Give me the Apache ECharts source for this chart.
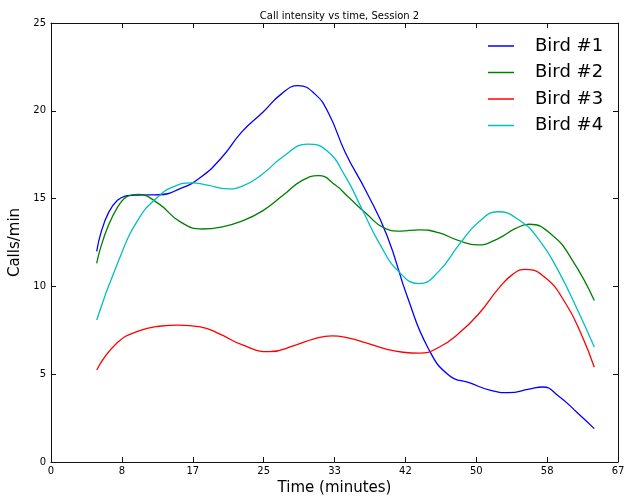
<!DOCTYPE html>
<html>
<head>
<meta charset="utf-8">
<script src="https://cdn.jsdelivr.net/npm/echarts@6/dist/echarts.min.js"></script>
<style>
html,body{margin:0;padding:0;background:#fff;}
#chart{width:626px;height:504px;}
</style>
</head>
<body>
<div id="chart"></div>
<script>
var titleText = 'Call intensity vs time, Session 2';
var seriesNames = ['Bird #1', 'Bird #2', 'Bird #3', 'Bird #4'];
var seriesColors = ['#0000ff', '#008000', '#ff0000', '#00bfbf'];
var xTickLabels = ['0', '8', '17', '25', '33', '42', '50', '58', '67'];
var yTickValues = [0, 5, 10, 15, 20, 25];

// [minutes, calls/min]
var bird1 = [[5.4,12.0],[7.85,14.9],[10.3,15.2],[12.75,15.22],[15.2,15.55],[17.65,16.2],[20.1,17.3],[22.55,18.8],[25.0,19.9],[27.2,20.95],[29.2,21.43],[31.2,20.95],[32.8,19.86],[34.8,17.6],[37.25,15.4],[39.7,12.9],[42.15,9.35],[44.6,6.45],[47.05,4.93],[49.5,4.5],[51.95,4.08],[54.1,3.95],[56.5,4.15],[58.1,4.27],[60.0,3.75],[62.1,2.85],[64.2,1.9]];
var bird2 = [[5.4,11.31],[7.85,14.5],[10.3,15.24],[12.75,14.7],[15.2,13.7],[17.9,13.27],[20.1,13.38],[22.55,13.72],[25.0,14.3],[27.45,15.2],[29.5,15.98],[31.6,16.31],[33.6,15.77],[35.2,15.06],[37.25,14.15],[39.3,13.35],[41.3,13.15],[43.5,13.22],[45.8,13.06],[48.2,12.6],[50.4,12.36],[52.9,12.74],[54.9,13.3],[56.5,13.54],[59.2,12.93],[61.6,11.5],[64.2,9.2]];
var bird3 = [[5.4,5.24],[7.85,6.8],[10.3,7.45],[12.75,7.73],[15.1,7.8],[17.65,7.7],[20.1,7.25],[22.55,6.68],[25.8,6.28],[28.9,6.66],[31.0,7.0],[33.2,7.18],[35.2,7.05],[37.25,6.78],[39.7,6.42],[41.6,6.25],[43.5,6.2],[45.8,6.52],[48.2,7.33],[50.6,8.47],[52.9,9.89],[54.6,10.7],[56.1,10.97],[58.5,10.46],[60.8,9.04],[62.6,7.35],[64.2,5.4]];
var bird4 = [[5.4,8.09],[7.85,11.3],[10.3,13.8],[12.75,15.15],[14.6,15.7],[16.5,15.9],[18.5,15.77],[20.8,15.55],[22.55,15.7],[25.0,16.4],[27.45,17.4],[30.3,18.1],[32.5,17.77],[34.8,16.25],[36.8,14.35],[38.8,12.45],[41.1,10.84],[43.5,10.16],[45.8,10.84],[48.2,12.36],[50.6,13.69],[52.8,14.25],[55.3,13.78],[57.7,12.64],[60.0,10.84],[62.4,8.47],[64.2,6.55]];

var xMax = 67;
var xStep = xMax / (xTickLabels.length - 1);
var font = 'DejaVu Sans';
var axisCol = '#111';

var chart = echarts.init(document.getElementById('chart'), null, {renderer: 'canvas'});

function xAxisCfg(pos, showLabel) {
  return {
    type: 'value', position: pos, min: 0, max: xMax, interval: xStep,
    splitLine: {show: false},
    axisLine: {show: true, onZero: false, lineStyle: {color: axisCol, width: 1}},
    axisTick: {show: true, inside: true, length: 5, lineStyle: {color: axisCol, width: 1}},
    axisLabel: {show: showLabel, margin: 4, fontSize: 10, fontFamily: font, color: '#000',
      formatter: function (v) { return xTickLabels[Math.round(v / xStep)]; }},
    name: showLabel ? 'Time (minutes)' : '',
    nameLocation: 'middle', nameGap: 19,
    nameTextStyle: {fontSize: 15, fontFamily: font, color: '#000'}
  };
}
function yAxisCfg(pos, showLabel) {
  return {
    type: 'value', position: pos, min: yTickValues[0], max: yTickValues[yTickValues.length - 1],
    interval: yTickValues[1] - yTickValues[0],
    splitLine: {show: false},
    axisLine: {show: true, onZero: false, lineStyle: {color: axisCol, width: 1}},
    axisTick: {show: true, inside: true, length: 5, lineStyle: {color: axisCol, width: 1}},
    axisLabel: {show: showLabel, margin: 5, fontSize: 10, fontFamily: font, color: '#000'},
    name: showLabel ? 'Calls/min' : '',
    nameLocation: 'middle', nameGap: 24, nameRotate: 90,
    nameTextStyle: {fontSize: 15, fontFamily: font, color: '#000'}
  };
}

var datas = [bird1, bird2, bird3, bird4];
var series = datas.map(function (d, i) {
  return {
    name: seriesNames[i], type: 'line', data: d, smooth: 0.5,
    showSymbol: false, symbol: 'none', xAxisIndex: 0, yAxisIndex: 0,
    lineStyle: {color: seriesColors[i], width: 1.3},
    itemStyle: {color: seriesColors[i]},
    animation: false
  };
});

chart.setOption({
  animation: false,
  backgroundColor: '#fff',
  title: {
    text: titleText, left: 334.5, top: 6, textAlign: 'center',
    textStyle: {fontSize: 10, fontWeight: 'normal', fontFamily: font, color: '#000'}
  },
  grid: {left: 51, right: 8, top: 23, bottom: 42, containLabel: false, outerBoundsMode: 'none'},
  legend: {
    orient: 'vertical', left: 488, top: 36, padding: 0, itemGap: 6.5,
    icon: 'rect', itemWidth: 26, itemHeight: 1.5,
    textStyle: {fontSize: 18, fontFamily: font, color: '#000', lineHeight: 20, padding: [0, 0, 0, 16]},
    data: seriesNames
  },
  xAxis: [xAxisCfg('bottom', true), xAxisCfg('top', false)],
  yAxis: [yAxisCfg('left', true), yAxisCfg('right', false)],
  series: series
});
</script>
</body>
</html>
